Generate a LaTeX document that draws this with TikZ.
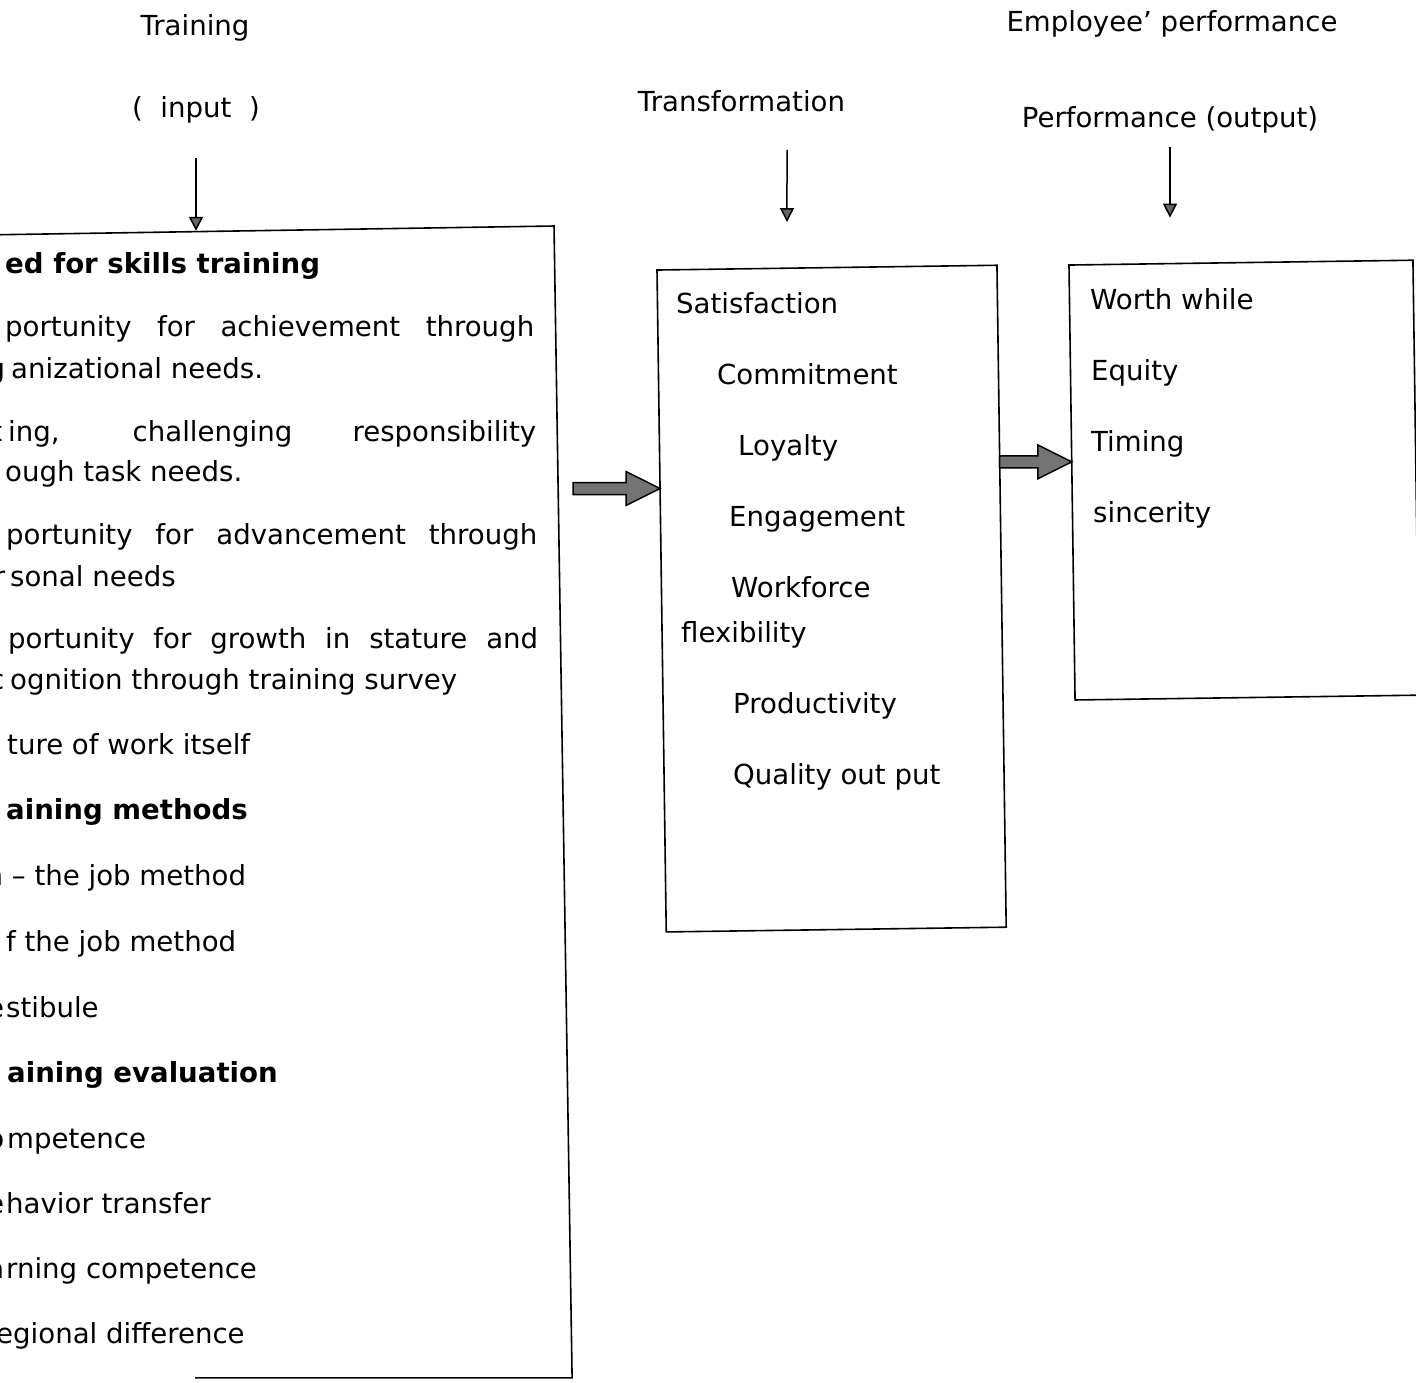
\documentclass[tikz,border=0pt]{standalone}
\usepackage{fontspec}
\setmainfont{DejaVu Sans}
\usetikzlibrary{arrows.meta,calc}

\newcommand{\edgebit}[2]{\llap{#1\kern#2pt}}
\newcommand{\fatarrow}[2]{%
  \filldraw[fill=black!55,draw=black,line width=1.5pt,line join=miter]
    let \p1=(#1), \p2=(#2) in
    (\x1,\y1+6pt) -- (\x2-34pt,\y1+6pt) -- (\x2-34pt,\y1+17pt) -- (\x2,\y1)
    -- (\x2-34pt,\y1-17pt) -- (\x2-34pt,\y1-6pt) -- (\x1,\y1-6pt) -- cycle;}

\begin{document}
\begin{tikzpicture}[x=1pt,y=-1pt,>={Triangle[length=14pt,width=14pt,fill=black!60]},
  txt/.style={font=\fontsize{27.6pt}{33pt}\selectfont,inner sep=0pt},
  item/.style={txt,anchor=base west},
  head/.style={item,font=\fontsize{27.6pt}{33pt}\selectfont\bfseries},
  title/.style={txt,anchor=base},
  frame/.style={draw,line width=1.6pt,inner sep=0pt,outer sep=0pt},
  pointer/.style={->,line width=1.5pt}]
\useasboundingbox (0,0) rectangle (1416,1383);

% frames
\node[frame,draw=none,rotate=0.9,minimum width=620pt,minimum height=1152pt](inbox)at(253.1,806.8){};
\draw[line width=1.6pt] (inbox.north west) -- (inbox.north east) -- (inbox.south east) -- ($(inbox.south east)+(-377,0)$);
\node[frame,rotate=0.8,minimum width=340pt,minimum height=662pt](mid)at(831.6,598.6){};
\node[frame,rotate=0.8,minimum width=344pt,minimum height=435pt](out)at(1244,480.1){};

% headings
\node[title](train)at(195,36){Training};
\node[title](input)at(196,118){(\ \ input\ \ )};
\node[title](trans)at(741.5,112){Transformation};
\node[title](emp)at(1172,32){Employee’ performance};
\node[title](perf)at(1170,128){Performance (output)};

\draw[pointer,shorten <=40pt] (input.base) -- (input.base |- inbox.north);
\draw[pointer] ($(trans.base)+(45.5,38)$) -- ($(mid.north)+(-40,-45.6)$);
\draw[pointer] ($(perf.base)+(0,19)$) -- ($(perf.base |- out.north)+(0,-45)$);

\coordinate (gapA) at (573,488.5);
\fatarrow{gapA}{$(mid.north west)!0.33!(mid.south west)$}
\fatarrow{$(mid.north east)!0.297!(mid.south east)$}{$(out.north west)!0.453!(out.south west)$}

% input column
\node[head](i1)at(5,273){ed for skills training};
\node[item](i2)at(5,336){\makebox[529pt][s]{portunity for achievement through}};
\node[item](i3)at(11,378){\edgebit{g}{6}anizational needs.};
\node[item](i4)at(8,441){\edgebit{t}{6}\makebox[528pt][s]{ing, challenging responsibility}};
\node[item](i5)at(5,481){ough task needs.};
\node[item](i6)at(6,544){\makebox[531pt][s]{portunity for advancement through}};
\node[item](i7)at(10,586){\edgebit{r}{5}sonal needs};
\node[item](i8)at(8,648){\makebox[530pt][s]{portunity for growth in stature and}};
\node[item](i9)at(10,689){\edgebit{c}{6}ognition through training survey};
\node[item](i10)at(7,754){ture of work itself};
\node[head](i11)at(6,819){aining methods};
\node[item](i12)at(3,885){\edgebit{n}{0}\ – the job method};
\node[item](i13)at(6,951){f the job method};
\node[item](i14)at(6,1017){\edgebit{e}{2}stibule};
\node[head](i15)at(7,1082){aining evaluation};
\node[item](i16)at(7,1148){\edgebit{o}{3}mpetence};
\node[item](i17)at(6,1213){\edgebit{e}{2}havior transfer};
\node[item](i18)at(6,1278){\edgebit{a}{2}rning competence};
\node[item](i19)at(-4,1343){egional difference};

% transformation column
\node[item](m1)at(676,313){Satisfaction};
\node[item](m2)at(717,384){Commitment};
\node[item](m3)at(738,455){Loyalty};
\node[item](m4)at(729,526){Engagement};
\node[item](m5)at(731,597){Workforce};
\node[item](m6)at(681,642){flexibility};
\node[item](m7)at(733,713){Productivity};
\node[item](m8)at(733,784){Quality out put};

% output column
\node[item](o1)at(1090,309){Worth while};
\node[item](o2)at(1091,380){Equity};
\node[item](o3)at(1091,451){Timing};
\node[item](o4)at(1093,522){sincerity};
\end{tikzpicture}
\end{document}
